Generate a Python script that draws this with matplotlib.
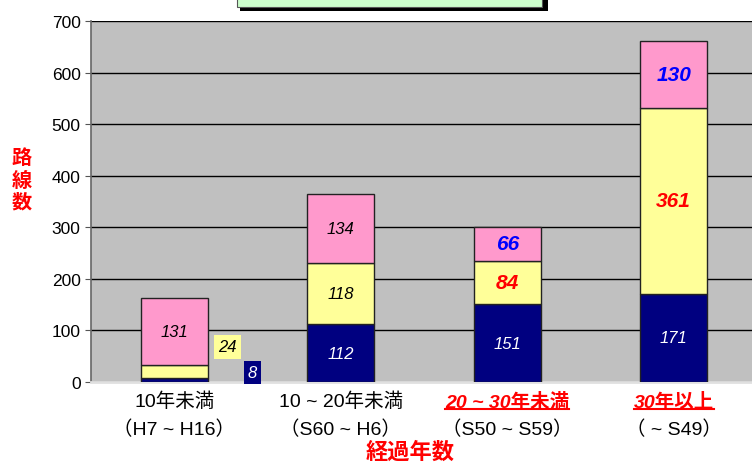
import matplotlib.pyplot as plt
from matplotlib.patches import Rectangle
import numpy as np

plt.rcParams['font.family'] = ['Liberation Sans', 'Noto Sans CJK JP', 'DejaVu Sans']

cats_top = ['10年未満', '10 ~ 20年未満', '20 ~ 30年未満', '30年以上']
cats_bottom = ['（H7 ~ H16）', '（S60 ~ H6）', '（S50 ~ S59）', '（ ~ S49）']
highlight = [False, False, True, True]
navy_vals = [8, 112, 151, 171]
yellow_vals = [24, 118, 84, 361]
pink_vals = [131, 134, 66, 130]
yticks = [0, 100, 200, 300, 400, 500, 600, 700]

NAVY = '#000080'
YELLOW = '#FFFF99'
PINK = '#FF99CC'

fig = plt.figure(figsize=(7.52, 4.64), dpi=100)
ax = fig.add_axes([91 / 752, 81 / 464, 1 - 91 / 752, 361 / 464])
ax.set_facecolor('#C0C0C0')

x = np.arange(len(cats_top))
w = 0.40
navy = np.array(navy_vals)
yel = np.array(yellow_vals)
pink = np.array(pink_vals)
ax.bar(x, navy, w, color=NAVY, edgecolor='#222222', lw=1, zorder=3)
ax.bar(x, yel, w, bottom=navy, color=YELLOW, edgecolor='#222222', lw=1, zorder=3)
ax.bar(x, pink, w, bottom=navy + yel, color=PINK, edgecolor='#222222', lw=1, zorder=3)

ax.set_xlim(-0.5, 3.47)
ax.set_ylim(0, 700)
ax.set_yticks(yticks)
ax.tick_params(axis='y', labelsize=12.5, length=4, color='#555555', direction='out')
ax.set_xticks([])
ax.yaxis.grid(True, color='black', lw=1, zorder=1)
for s in ['top', 'right']:
    ax.spines[s].set_visible(False)
ax.spines['left'].set_color('#666666')
ax.spines['left'].set_linewidth(1.2)
ax.spines['bottom'].set_color('#E0E0E0')
ax.spines['bottom'].set_linewidth(2)

# value labels
for i in range(len(x)):
    hl = highlight[i]
    yb = navy[i] / 2
    ym = navy[i] + yel[i] / 2
    yt = navy[i] + yel[i] + pink[i] / 2
    if i == 0:
        # small segments labelled beside the bar
        ax.text(0.32, 68, str(yel[i]), ha='center', va='center', fontsize=12,
                style='italic', color='black', zorder=4,
                bbox=dict(boxstyle='square,pad=0.25', fc=YELLOW, ec='none'))
        ax.text(0.47, 19, str(navy[i]), ha='center', va='center', fontsize=12,
                style='italic', color='white', zorder=4,
                bbox=dict(boxstyle='square,pad=0.25', fc=NAVY, ec='none'))
    else:
        ax.text(x[i], yb, str(navy[i]), ha='center', va='center', fontsize=12,
                style='italic', color='white', zorder=4)
        if hl:
            ax.text(x[i], ym, str(yel[i]), ha='center', va='center', fontsize=15,
                    style='italic', weight='bold', color='red', zorder=4)
        else:
            ax.text(x[i], ym, str(yel[i]), ha='center', va='center', fontsize=12,
                    style='italic', color='black', zorder=4)
    if hl:
        ax.text(x[i], yt, str(pink[i]), ha='center', va='center', fontsize=15,
                style='italic', weight='bold', color='#0000FF', zorder=4)
    else:
        ax.text(x[i], yt, str(pink[i]), ha='center', va='center', fontsize=12,
                style='italic', color='black', zorder=4)

# category labels
trans = ax.get_xaxis_transform()
top_texts = []
for i in range(len(x)):
    if highlight[i]:
        t = ax.text(x[i], -0.053, cats_top[i], transform=trans, ha='center', va='center',
                    fontsize=14, color='red', weight='bold', style='italic')
        top_texts.append(t)
    else:
        ax.text(x[i], -0.053, cats_top[i], transform=trans, ha='center', va='center',
                fontsize=14, color='black')
    ax.text(x[i], -0.13, cats_bottom[i], transform=trans, ha='center', va='center',
            fontsize=14, color='black')

fig.text(22 / 752, 1 - 181 / 464, '路\n線\n数', ha='center', va='center', fontsize=14.5,
         color='red', weight='bold', linespacing=1.2)
fig.text(410 / 752, 1 - 453 / 464, '経過年数', ha='center', va='center', fontsize=16,
         color='red', weight='bold')

# green title box cut off at top
fig.patches.append(Rectangle((240 / 752, 1 - 12 / 464), 308 / 752, 0.1, transform=fig.transFigure,
                             fc='black', ec='none', zorder=1))
fig.patches.append(Rectangle((237 / 752, 1 - 8 / 464), 305 / 752, 0.1, transform=fig.transFigure,
                             fc='#CCFFCC', ec='#555555', lw=0.8, zorder=2))

# underline highlighted labels
fig.canvas.draw()
r = fig.canvas.get_renderer()
inv = fig.transFigure.inverted()
for t in top_texts:
    bb = t.get_window_extent(r)
    (x0, y0), (x1, y1) = inv.transform([(bb.x0, bb.y0), (bb.x1, bb.y1)])
    fig.add_artist(plt.Line2D([x0, x1], [y0 + 0.004, y0 + 0.004], color='red', lw=1.5,
                              transform=fig.transFigure))

fig.savefig('out.png', dpi=100)
